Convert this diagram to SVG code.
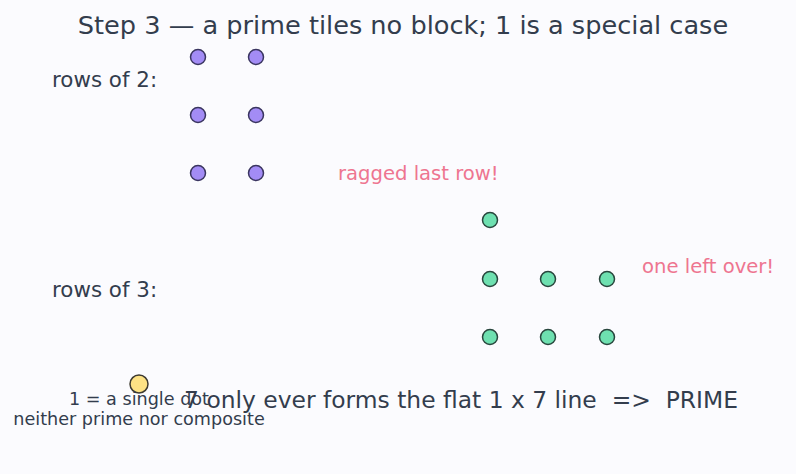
<svg xmlns="http://www.w3.org/2000/svg" width="796" height="474" viewBox="0 0 796 474">
<style>
text{font-family:"DejaVu Sans",sans-serif;fill:#333d4d}
.lbl{font-size:21.4px}
.note{font-size:19.6px;fill:#ee7590}
.small{font-size:17.6px;text-anchor:middle}
.p{fill:#a38cf5;stroke:#3a3560;stroke-width:1.5}
.g{fill:#6ee0b0;stroke:#28463d;stroke-width:1.5}
.y{fill:#fde285;stroke:#3d3a30;stroke-width:1.5}
</style>
<rect width="796" height="474" fill="#fbfbfe"/>
<text x="403" y="34" font-size="25.6" text-anchor="middle">Step 3 — a prime tiles no block; 1 is a special case</text>
<g id="connectors"/>
<g id="rows2">
<text class="lbl" x="52" y="87">rows of 2:</text>
<circle class="p" cx="198" cy="57" r="7.5"/><circle class="p" cx="256" cy="57" r="7.5"/>
<circle class="p" cx="198" cy="115" r="7.5"/><circle class="p" cx="256" cy="115" r="7.5"/>
<circle class="p" cx="198" cy="173" r="7.5"/><circle class="p" cx="256" cy="173" r="7.5"/>
<text class="note" x="338" y="180">ragged last row!</text>
</g>
<g id="rows3">
<text class="lbl" x="52" y="297">rows of 3:</text>
<circle class="g" cx="490" cy="220" r="7.5"/>
<circle class="g" cx="490" cy="279" r="7.5"/><circle class="g" cx="548" cy="279" r="7.5"/><circle class="g" cx="607" cy="279" r="7.5"/>
<circle class="g" cx="490" cy="337" r="7.5"/><circle class="g" cx="548" cy="337" r="7.5"/><circle class="g" cx="607" cy="337" r="7.5"/>
<text class="note" x="642" y="273">one left over!</text>
</g>
<g id="one">
<circle class="y" cx="139" cy="384" r="9"/>
<text class="small" x="139" y="405">1 = a single dot</text>
<text class="small" x="139" y="425">neither prime nor composite</text>
</g>
<g id="conclusion">
<text x="461" y="408" font-size="23.4" text-anchor="middle" xml:space="preserve">7 only ever forms the flat 1 x 7 line  =&gt;  PRIME</text>
</g>
</svg>
